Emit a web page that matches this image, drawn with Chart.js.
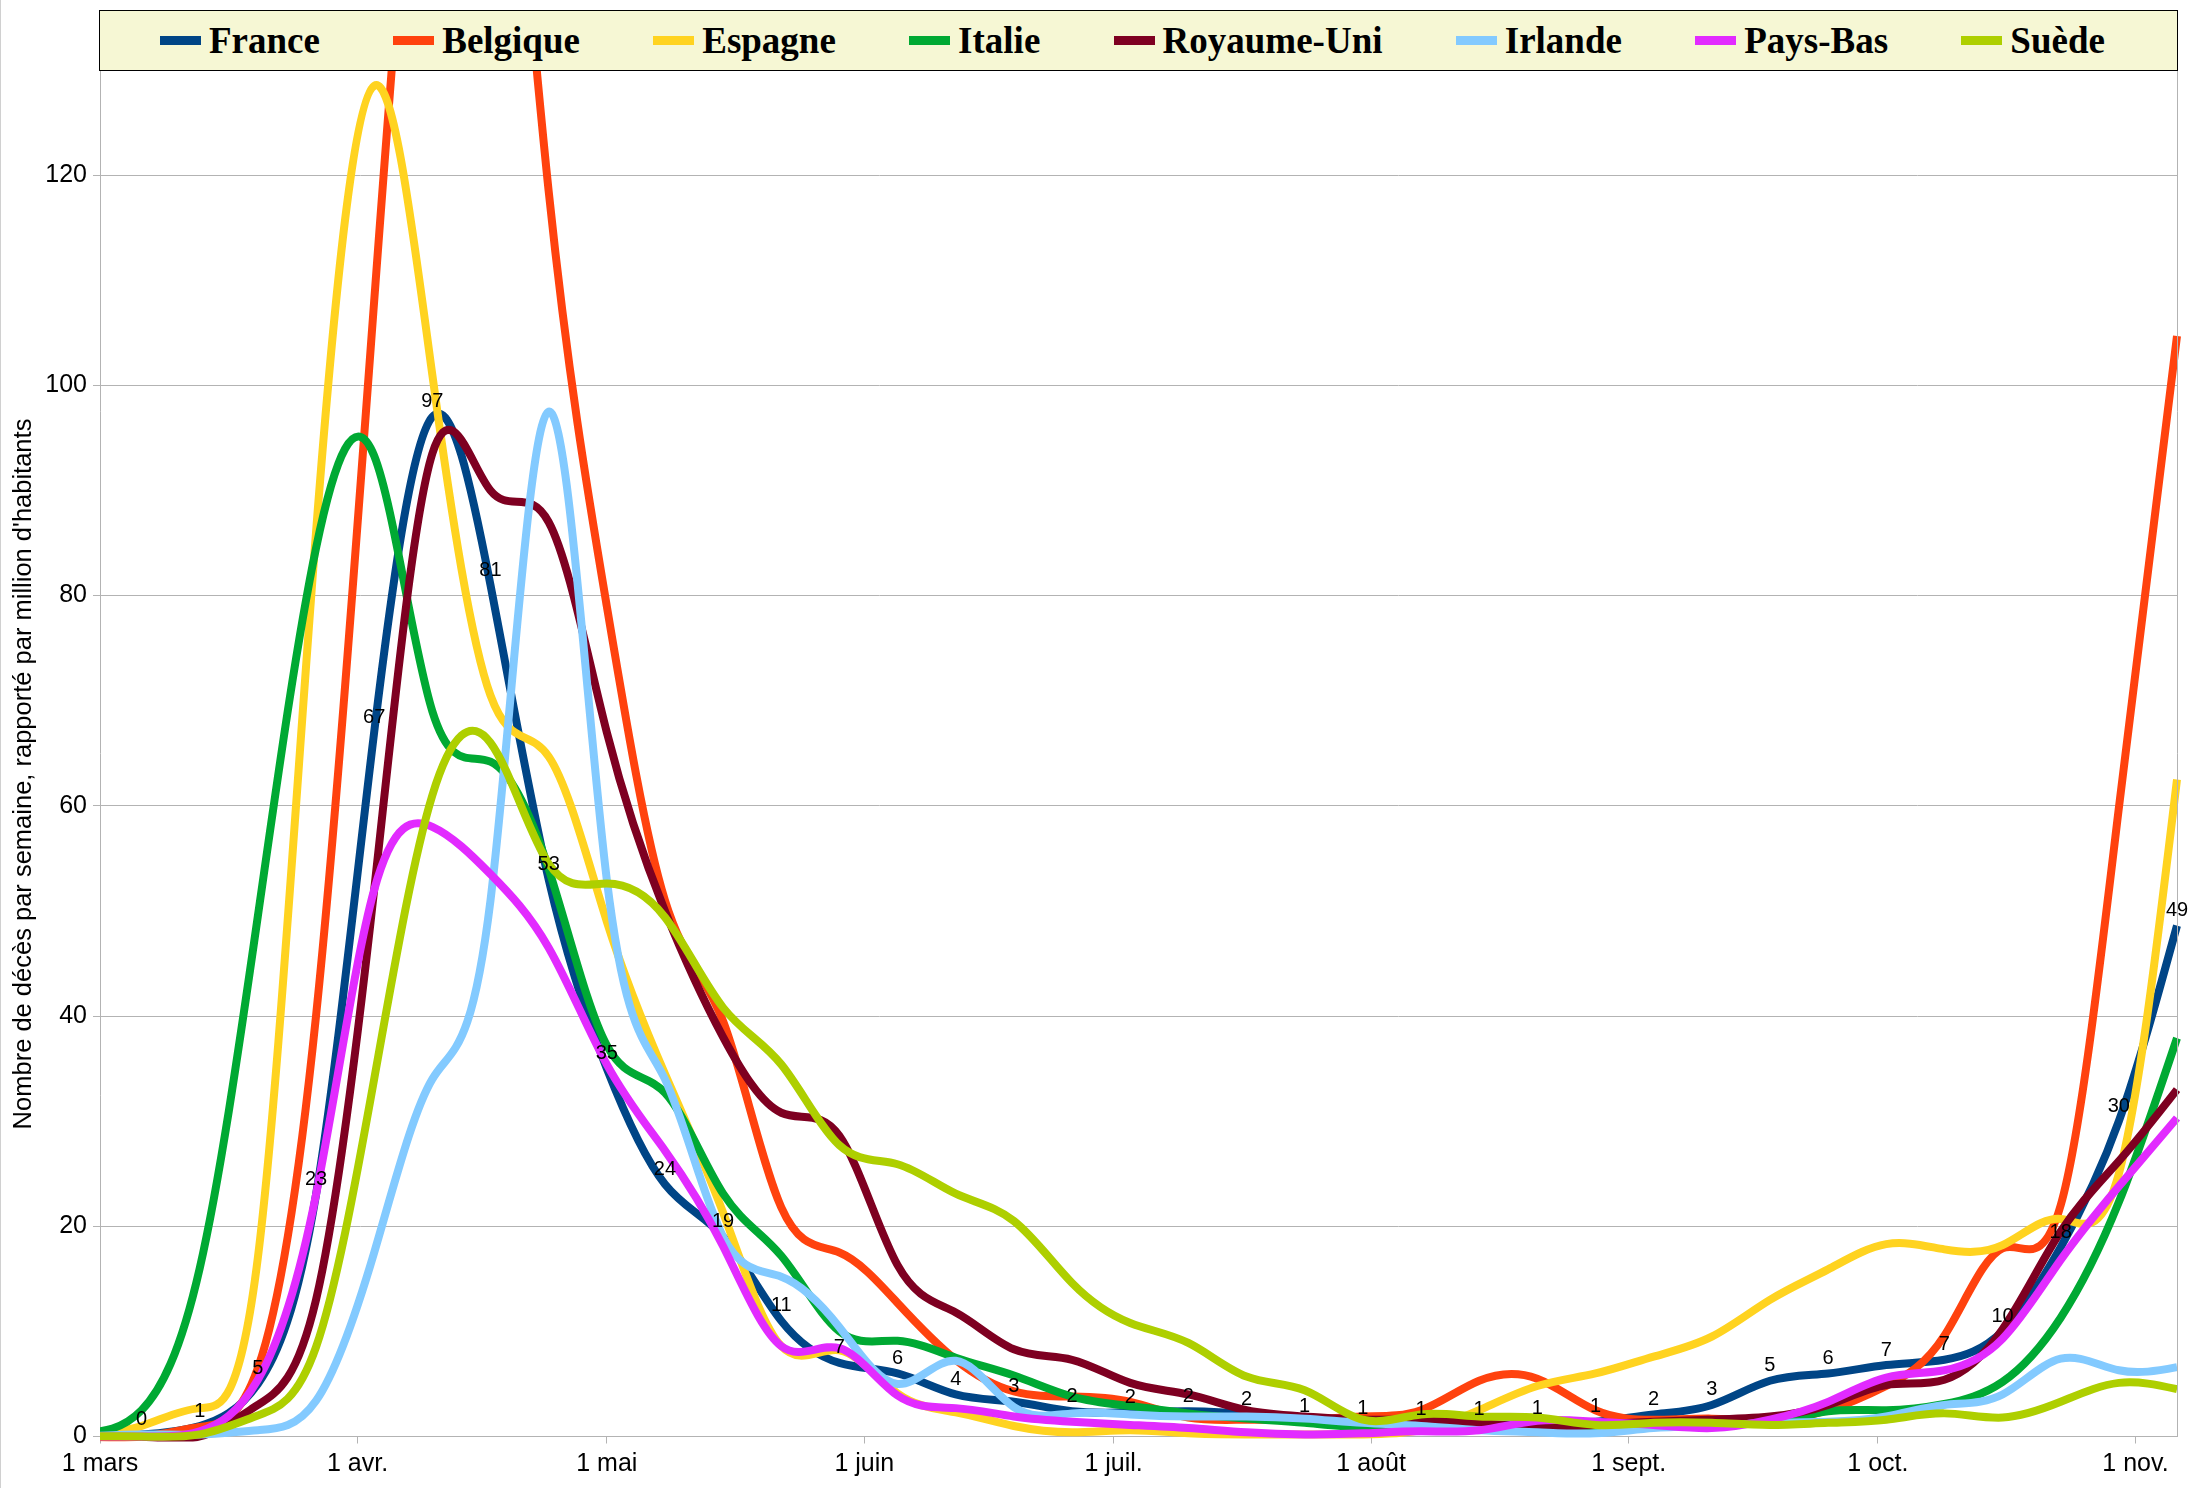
<!DOCTYPE html>
<html lang="fr">
<head>
<meta charset="utf-8">
<title>Décès par semaine, par million d'habitants</title>
<script src="https://cdn.jsdelivr.net/npm/chart.js@4.4.0/dist/chart.umd.min.js"></script>
<style>
  html, body { margin: 0; padding: 0; background: #fff; }
  #wrap { position: relative; width: 2190px; height: 1488px; }
  #chart { display: block; }
  #legend {
    position: absolute; left: 99px; top: 10px; width: 2079px; height: 61px;
    box-sizing: border-box; border: 1.5px solid #000; background: #f6f7d4;
    display: flex; align-items: center; justify-content: space-between;
    padding: 0 72px 0 60px;
    font: bold 37px "Liberation Serif", "Times New Roman", serif; color: #000;
  }
  .item { display: flex; align-items: center; white-space: nowrap; }
  .swatch { width: 41px; height: 9px; margin-right: 8px; }
</style>
</head>
<body>
<div id="wrap">
  <canvas id="chart" width="2190" height="1488"></canvas>
  <div id="legend"></div>
</div>
<script>
// weekly points (the first one sits just before the axis start and is clipped)
const dates = ['2020-02-28', '2020-03-06', '2020-03-13', '2020-03-20', '2020-03-27',
  '2020-04-03', '2020-04-10', '2020-04-17', '2020-04-24', '2020-05-01', '2020-05-08',
  '2020-05-15', '2020-05-22', '2020-05-29', '2020-06-05', '2020-06-12', '2020-06-19',
  '2020-06-26', '2020-07-03', '2020-07-10', '2020-07-17', '2020-07-24', '2020-07-31',
  '2020-08-07', '2020-08-14', '2020-08-21', '2020-08-28', '2020-09-04', '2020-09-11',
  '2020-09-18', '2020-09-25', '2020-10-02', '2020-10-09', '2020-10-16', '2020-10-23',
  '2020-10-30', '2020-11-06'];

const france     = [0, 0.2, 1, 5, 23, 67, 97, 81, 53, 35, 24, 19, 11, 7, 6, 4, 3.3, 2.4, 2.3, 2.4, 2.1, 1.4, 1.2, 1.1, 1.1, 1.2, 1.4, 2.1, 3, 5.3, 6, 6.8, 7.3, 10, 18, 30, 48.6];
const belgique   = [0, 0, 0.9, 6.5, 40, 108, 170, 172, 118.5, 79, 51, 39.5, 21.8, 17.5, 12.7, 7.3, 4.3, 3.8, 3.3, 1.8, 1.6, 1.6, 1.9, 2.5, 5.3, 5.5, 2.5, 1.6, 1.7, 1.6, 2.5, 4.8, 9.6, 17.9, 22, 59.8, 104.7];
const espagne    = [0, 1, 2.7, 17, 86, 128.5, 101, 70.5, 64.7, 49, 34.5, 21.3, 8.6, 8.2, 4.1, 2.3, 1, 0.4, 0.6, 0.3, 0.2, 0.2, 0.2, 0.6, 2.5, 4.8, 6, 7.6, 9.5, 13, 15.9, 18.3, 17.8, 18.2, 20.7, 25, 62.5];
const italie     = [0.3, 2.5, 16, 49.5, 84.5, 93.3, 69, 64.2, 54, 37.2, 32.7, 23.1, 17.2, 10, 9.1, 7.5, 5.8, 3.8, 2.9, 2.2, 1.7, 1.3, 0.9, 1, 1, 1, 1, 1.3, 1.3, 1.3, 2.4, 2.5, 3.1, 5.2, 11.3, 22.3, 37.9];
const royaumeUni = [0, 0, 0, 3, 13, 52, 93.5, 90, 87, 67, 50, 38, 30.8, 28.6, 16.3, 11.8, 8.3, 7.3, 5.1, 4, 2.5, 1.9, 1.6, 1.6, 1.3, 0.9, 1.1, 1.4, 1.6, 1.9, 3, 4.9, 5.4, 10.2, 19.5, 26.2, 33];
const irlande    = [0, 0.2, 0.2, 0.6, 3.4, 17.5, 34, 51, 97.5, 53, 34, 19, 15.2, 10.4, 5, 7.2, 2.8, 2.2, 2.1, 1.9, 1.9, 1.7, 1.3, 1, 0.6, 0.4, 0.3, 0.8, 1, 1.3, 1.4, 1.9, 3, 4, 7.4, 6.3, 6.6];
const paysBas    = [0, 0, 0.5, 5.4, 23, 52, 58, 53.5, 46.5, 35.4, 27.2, 18.1, 8.6, 8.4, 3.9, 2.7, 1.9, 1.4, 1.1, 0.8, 0.4, 0.2, 0.3, 0.5, 0.6, 1.5, 1.4, 1.1, 0.8, 1.6, 3.3, 5.6, 6.3, 9.3, 16.8, 23.8, 30.3];
const suede      = [0, 0, 0.2, 2, 8.5, 34, 61, 66, 54.5, 52.6, 49.4, 40.8, 35.4, 27.7, 25.9, 23.1, 20.5, 14.6, 10.8, 8.9, 5.7, 4.4, 1.6, 2.1, 1.9, 1.8, 1.1, 1.3, 1.3, 1.1, 1.3, 1.6, 2.2, 1.8, 3.3, 5.1, 4.5];

const seriesNames = ['France', 'Belgique', 'Espagne', 'Italie', 'Royaume-Uni', 'Irlande', 'Pays-Bas', 'Suède'];
const seriesValues = [france, belgique, espagne, italie, royaumeUni, irlande, paysBas, suede];
const seriesColors = ['#004586', '#ff420e', '#ffd320', '#00a933', '#7e0021', '#83caff', '#e22bff', '#aecf00'];

const monthTicks = ['2020-03-01', '2020-04-01', '2020-05-01', '2020-06-01', '2020-07-01',
  '2020-08-01', '2020-09-01', '2020-10-01', '2020-11-01'];
const monthLabels = ['1 mars', '1 avr.', '1 mai', '1 juin', '1 juil.', '1 août', '1 sept.', '1 oct.', '1 nov.'];
const yTicks = [0, 20, 40, 60, 80, 100, 120];
const yTitle = "Nombre de décès par semaine, rapporté par million d'habitants";

const gridColor = '#b3b3b3';
Chart.defaults.font.family = '"Liberation Sans", Arial, sans-serif';
Chart.defaults.color = '#000';

// days counted from 1 March 2020
function dayOf(s) {
    const [y, m, d] = s.split('-').map(Number);
    return (Date.UTC(y, m - 1, d) - Date.UTC(2020, 2, 1)) / 86400000;
}
const xs = dates.map(dayOf);
const monthDays = monthTicks.map(dayOf);

// legend (html, framed like the original)
const legend = document.getElementById('legend');
seriesNames.forEach((name, i) => {
    const item = document.createElement('div');
    item.className = 'item';
    const sw = document.createElement('span');
    sw.className = 'swatch';
    sw.style.background = seriesColors[i];
    item.appendChild(sw);
    item.appendChild(document.createTextNode(name));
    legend.appendChild(item);
});

// natural cubic spline through the points, like the spreadsheet's smoothed lines
const naturalSpline = {
    id: 'naturalSpline',
    beforeDatasetDraw(chart, args) {
        const meta = args.meta;
        const pts = meta.data;
        const n = pts.length;
        if (n < 3) return;
        const x = pts.map(p => p.x);
        const y = pts.map(p => p.y);
        const h = [];
        for (let i = 0; i < n - 1; i++) h.push(x[i + 1] - x[i]);

        const a = [], b = [], c = [], d = [];
        for (let i = 1; i < n - 1; i++) {
            a.push(h[i - 1]);
            b.push(2 * (h[i - 1] + h[i]));
            c.push(h[i]);
            d.push(6 * ((y[i + 1] - y[i]) / h[i] - (y[i] - y[i - 1]) / h[i - 1]));
        }
        const m = b.length;
        for (let k = 1; k < m; k++) {
            const w = a[k] / b[k - 1];
            b[k] -= w * c[k - 1];
            d[k] -= w * d[k - 1];
        }
        const M = new Array(n).fill(0);
        M[m] = d[m - 1] / b[m - 1];
        for (let k = m - 2; k >= 0; k--) {
            M[k + 1] = (d[k] - c[k] * M[k + 2]) / b[k];
        }

        const slope = [];
        for (let i = 0; i < n - 1; i++) {
            slope.push((y[i + 1] - y[i]) / h[i] - h[i] * (2 * M[i] + M[i + 1]) / 6);
        }
        slope.push((y[n - 1] - y[n - 2]) / h[n - 2] + h[n - 2] * (M[n - 2] + 2 * M[n - 1]) / 6);

        pts.forEach((p, i) => {
            const hp = i > 0 ? h[i - 1] : 0;
            const hn = i < n - 1 ? h[i] : 0;
            p.cp1x = x[i] - hp / 3;
            p.cp1y = y[i] - slope[i] * hp / 3;
            p.cp2x = x[i] + hn / 3;
            p.cp2y = y[i] + slope[i] * hn / 3;
        });
        meta.dataset._pointsUpdated = true;
        meta.dataset._path = undefined;
    }
};

// value labels on the France curve
const franceLabels = {
    id: 'franceLabels',
    afterDatasetsDraw(chart) {
        const ctx = chart.ctx;
        const area = chart.chartArea;
        const meta = chart.getDatasetMeta(0);
        ctx.save();
        ctx.font = '20px "Liberation Sans", Arial, sans-serif';
        ctx.fillStyle = '#000';
        ctx.textAlign = 'center';
        ctx.textBaseline = 'middle';
        meta.data.forEach((pt, i) => {
            if (pt.x < area.left || pt.x > area.right + 1) return;
            ctx.fillText(String(Math.round(france[i])), pt.x, pt.y - 15);
        });
        ctx.restore();
    }
};

// y title, right edge of the plot and left edge of the picture
const frame = {
    id: 'frame',
    afterDraw(chart) {
        const ctx = chart.ctx;
        const a = chart.chartArea;
        ctx.save();
        ctx.strokeStyle = gridColor;
        ctx.lineWidth = 1;
        ctx.beginPath();
        ctx.moveTo(Math.round(a.right) + 0.5, a.top);
        ctx.lineTo(Math.round(a.right) + 0.5, a.bottom);
        ctx.stroke();
        ctx.strokeStyle = '#d0d0d0';
        ctx.beginPath();
        ctx.moveTo(0.5, 0);
        ctx.lineTo(0.5, chart.height);
        ctx.stroke();

        ctx.translate(24, 774);
        ctx.rotate(-Math.PI / 2);
        ctx.font = '25.5px "Liberation Sans", Arial, sans-serif';
        ctx.fillStyle = '#000';
        ctx.textAlign = 'center';
        ctx.textBaseline = 'middle';
        ctx.fillText(yTitle, 0, 0);
        ctx.restore();
    }
};

const datasets = seriesNames.map((name, i) => ({
    label: name,
    data: seriesValues[i].map((v, j) => ({ x: xs[j], y: v })),
    borderColor: seriesColors[i],
    backgroundColor: seriesColors[i],
    borderWidth: 8,
    pointRadius: 0,
    tension: 0.4,
    fill: false,
    order: seriesNames.length - i,
    clip: { left: 0, top: 0, right: 5, bottom: 5 }
}));

new Chart(document.getElementById('chart'), {
    type: 'line',
    data: { datasets },
    options: {
        responsive: false,
        animation: false,
        layout: { padding: { top: 70, right: 13, left: 0, bottom: 0 } },
        plugins: {
            legend: { display: false },
            tooltip: { enabled: false }
        },
        scales: {
            x: {
                type: 'linear',
                min: 0,
                max: 250,
                afterBuildTicks: scale => {
                    scale.ticks = monthDays.map(v => ({ value: v }));
                },
                afterFit: scale => { scale.height = 51.5; },
                ticks: {
                    autoSkip: false,
                    maxRotation: 0,
                    padding: 6,
                    font: { size: 25 },
                    callback: value => monthLabels[monthDays.indexOf(value)]
                },
                grid: { drawOnChartArea: false, drawTicks: true, tickLength: 7, color: gridColor },
                border: { color: gridColor }
            },
            y: {
                min: 0,
                max: 130,
                afterBuildTicks: scale => {
                    scale.ticks = yTicks.map(v => ({ value: v }));
                },
                afterFit: scale => { scale.width = 100; },
                ticks: { padding: 6, font: { size: 25 } },
                grid: { color: gridColor, tickLength: 7 },
                border: { color: gridColor }
            }
        }
    },
    plugins: [naturalSpline, franceLabels, frame]
});
</script>
</body>
</html>
